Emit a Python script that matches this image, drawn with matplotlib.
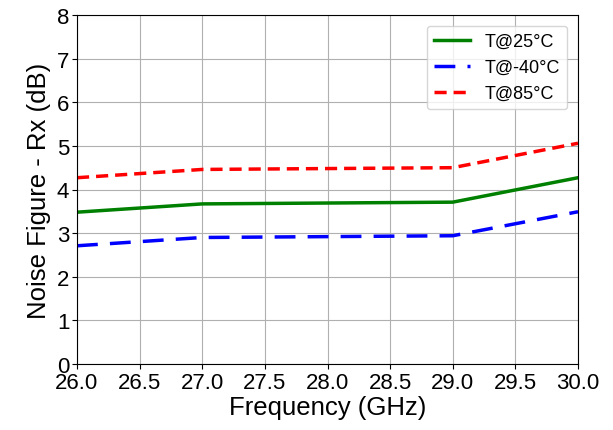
import matplotlib
matplotlib.use("Agg")
import matplotlib.pyplot as plt

plt.rcParams['font.family'] = ['Liberation Sans', 'DejaVu Sans']

freq = [26, 27, 29, 30]
t25 = [3.48, 3.67, 3.71, 4.27]
tm40 = [2.71, 2.90, 2.94, 3.49]
t85 = [4.27, 4.46, 4.50, 5.06]
labels = ['T@25°C', 'T@-40°C', 'T@85°C']

fig = plt.figure(figsize=(6.13, 4.31), dpi=100)
ax = fig.add_axes([77/613, 1-365/431, (578-77)/613, (365-16)/431])
ax.plot(freq, t25, color='green', lw=2.5, label=labels[0])
ax.plot(freq, tm40, color='blue', lw=2.5, linestyle=(0, (6, 3.5)), label=labels[1])
ax.plot(freq, t85, color='red', lw=2.5, linestyle=(0, (3.5, 2)), label=labels[2])
ax.set_xlim(26, 30)
ax.set_ylim(0, 8)
ax.set_xticks([26.0, 26.5, 27.0, 27.5, 28.0, 28.5, 29.0, 29.5, 30.0])
ax.set_xticklabels(['26.0', '26.5', '27.0', '27.5', '28.0', '28.5', '29.0', '29.5', '30.0'])
ax.set_yticks(range(0, 9))
ax.tick_params(labelsize=16, pad=2)
ax.grid(True, color='#b0b0b0', lw=0.8)
ax.set_xlabel('Frequency (GHz)', fontsize=18.5, labelpad=2)
ax.set_ylabel('Noise Figure - Rx (dB)', fontsize=18.5, labelpad=4)
ax.legend(loc='upper right', fontsize=13, borderaxespad=0.6)
fig.savefig('out.png', dpi=100)
